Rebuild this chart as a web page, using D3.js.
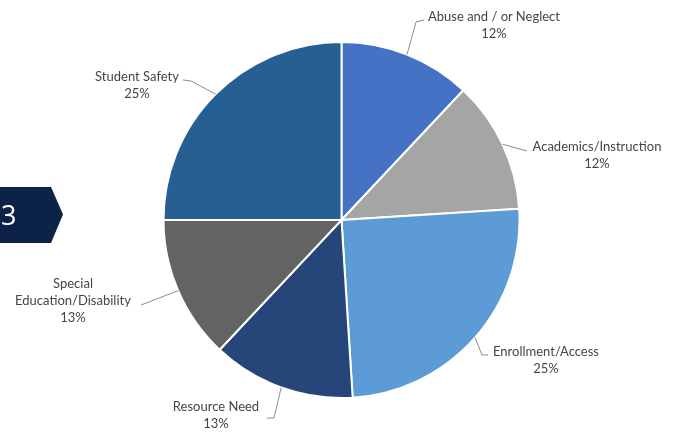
<!DOCTYPE html>
<html>
<head>
<meta charset="utf-8">
<script src="https://cdn.jsdelivr.net/npm/d3@7"></script>
<style>
  html, body { margin: 0; padding: 0; background: #ffffff; }
  svg { display: block; }
</style>
</head>
<body>
<svg id="chart" width="684" height="432"></svg>
<script>
// Complaint categories and their share of the total (percent)
const categories = [
  "Abuse and / or Neglect",
  "Academics/Instruction",
  "Enrollment/Access",
  "Resource Need",
  "Special Education/Disability",
  "Student Safety"
];
const shares = [12, 12, 25, 13, 13, 25];
const sliceColors = ["#4472C4", "#A5A5A5", "#5B9BD5", "#264478", "#636363", "#255E91"];

// Section marker
const sectionNumber = "3";

const W = 684, H = 432;
const cx = 341.5, cy = 220, R = 178;

const svg = d3.select("#chart");

const defs = svg.append("defs");
defs.append("filter").attr("id", "soft")
  .append("feGaussianBlur").attr("stdDeviation", 0.6);

const root = svg.append("g").attr("filter", "url(#soft)");

// Section arrow badge on the left edge
root.append("path")
  .attr("d", d3.line()([[0, 187], [51, 187], [63, 214.5], [51, 243], [0, 243]]) + "Z")
  .attr("fill", "#0c2046");
root.append("text")
  .attr("x", 1).attr("y", 225)
  .attr("text-anchor", "start")
  .attr("font-family", "'Open Sans', sans-serif")
  .attr("font-size", 27)
  .attr("fill", "#ffffff")
  .text(sectionNumber);

// Pie
const rows = categories.map((c, i) => ({ name: c, value: shares[i], color: sliceColors[i] }));
const pie = d3.pie().value(d => d.value).sort(null);
const arcs = pie(rows);
const arc = d3.arc().innerRadius(0).outerRadius(R);

const g = root.append("g").attr("transform", `translate(${cx},${cy})`);
g.selectAll("path.slice")
  .data(arcs)
  .join("path")
  .attr("class", "slice")
  .attr("d", arc)
  .attr("fill", d => d.data.color)
  .attr("stroke", "#ffffff")
  .attr("stroke-width", 2)
  .attr("stroke-linejoin", "round");

// Label placement: text centre and leader elbow points (page coordinates)
const labelLayout = {
  "Abuse and / or Neglect":       { x: 494, y: 21, lines: ["Abuse and / or Neglect"], elbow: [[416, 22], [424, 20]] },
  "Academics/Instruction":        { x: 597, y: 151, lines: ["Academics/Instruction"], elbow: [[527, 151]] },
  "Enrollment/Access":            { x: 546, y: 356, lines: ["Enrollment/Access"], elbow: [[482, 355], [488, 355]] },
  "Resource Need":                { x: 216, y: 411, lines: ["Resource Need"], elbow: [[274, 418], [267, 418]] },
  "Special Education/Disability": { x: 73, y: 288, lines: ["Special", "Education/Disability"], elbow: [[141, 305]] },
  "Student Safety":               { x: 137, y: 81, lines: ["Student Safety"], elbow: [[191, 81], [183, 80]] }
};

const lineH = 17;
const labels = root.append("g")
  .attr("font-family", "Lato, 'Open Sans', sans-serif")
  .attr("font-size", 13)
  .attr("fill", "#454545");

arcs.forEach(a => {
  const L = labelLayout[a.data.name];
  const mid = (a.startAngle + a.endAngle) / 2;
  const edge = [cx + R * Math.sin(mid), cy - R * Math.cos(mid)];
  root.append("path")
    .attr("d", d3.line()([edge, ...L.elbow]))
    .attr("fill", "none")
    .attr("stroke", "#8c8c8c")
    .attr("stroke-width", 1);

  const t = labels.append("text")
    .attr("text-anchor", "middle");
  const all = [...L.lines, d3.format("d")(a.data.value) + "%"];
  all.forEach((s, i) => {
    t.append("tspan")
      .attr("x", L.x)
      .attr("y", L.y + i * lineH)
      .text(s);
  });
});
</script>
</body>
</html>
